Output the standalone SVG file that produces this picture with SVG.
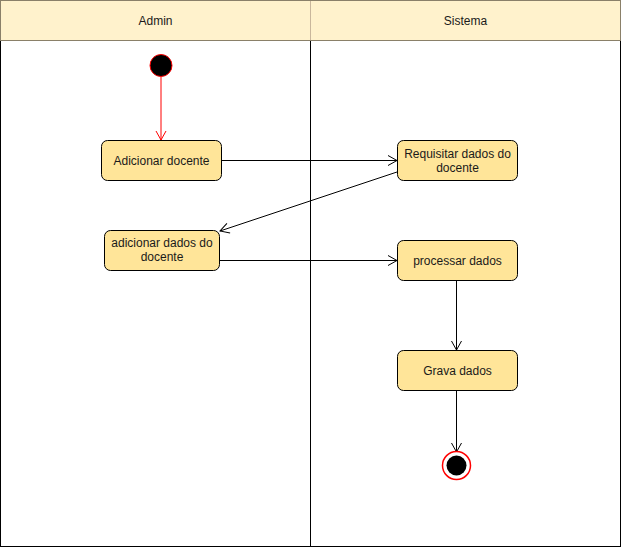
<svg xmlns="http://www.w3.org/2000/svg" width="622" height="547" viewBox="0 0 622 547">
  <defs>
    <marker id="open" markerWidth="12" markerHeight="12" refX="10" refY="6" orient="auto" markerUnits="userSpaceOnUse">
      <path d="M1,1 L10,6 L1,11" fill="none" stroke="#000" stroke-width="1"/>
    </marker>
    <marker id="openRed" markerWidth="12" markerHeight="12" refX="10" refY="6" orient="auto" markerUnits="userSpaceOnUse">
      <path d="M1,1 L10,6 L1,11" fill="none" stroke="#ff0000" stroke-width="1"/>
    </marker>
  </defs>
  <style>
    .lane { fill: #ffffff; stroke: #000000; stroke-width: 1; }
    .head { fill: #fff2cc; stroke: #8a8069; stroke-width: 1; }
    .act { fill: #ffe599; stroke: #000000; stroke-width: 1; }
    .txt { font-family: "Liberation Sans", Arial, sans-serif; font-size: 12px; fill: #1a1a1a; text-anchor: middle; }
    .edge { fill: none; stroke: #000000; stroke-width: 1; }
  </style>

  <!-- swimlanes -->
  <g id="lane-admin">
    <rect class="lane" x="0.5" y="40.5" width="310" height="506"/>
    <rect class="head" x="0.5" y="0.5" width="310" height="40"/>
    <text class="txt" x="155.5" y="24.5">Admin</text>
  </g>
  <g id="lane-sistema">
    <rect class="lane" x="310.5" y="40.5" width="310" height="506"/>
    <rect class="head" x="310.5" y="0.5" width="310" height="40"/>
    <line x1="310.5" y1="1" x2="310.5" y2="40" stroke="#c9b79c" stroke-width="1"/>
    <text class="txt" x="465.5" y="24.5">Sistema</text>
  </g>

  <!-- connectors -->
  <g id="connectors">
    <line x1="161" y1="77" x2="161" y2="140" stroke="#ff0000" stroke-width="1" marker-end="url(#openRed)"/>
    <line class="edge" x1="221" y1="160.5" x2="397" y2="160.5" marker-end="url(#open)"/>
    <line class="edge" x1="397" y1="172" x2="220" y2="231" marker-end="url(#open)"/>
    <line class="edge" x1="219" y1="260.5" x2="397" y2="260.5" marker-end="url(#open)"/>
    <line class="edge" x1="456.5" y1="280" x2="456.5" y2="350" marker-end="url(#open)"/>
    <line class="edge" x1="456.5" y1="390" x2="456.5" y2="452" marker-end="url(#open)"/>
  </g>

  <!-- nodes -->
  <g id="start">
    <circle cx="161" cy="65.5" r="11" fill="#000000" stroke="#ff0000" stroke-width="1"/>
  </g>
  <g id="adicionar-docente">
    <rect class="act" x="101.5" y="140.5" width="120" height="40" rx="6"/>
    <text class="txt" x="161.5" y="164.5">Adicionar docente</text>
  </g>
  <g id="requisitar-dados">
    <rect class="act" x="397.5" y="140.5" width="120" height="40" rx="6"/>
    <text class="txt" x="457.5" y="157.5">Requisitar dados do</text>
    <text class="txt" x="457.5" y="171.5">docente</text>
  </g>
  <g id="adicionar-dados">
    <rect class="act" x="104.5" y="230.5" width="115" height="40" rx="6"/>
    <text class="txt" x="162" y="246.5">adicionar dados do</text>
    <text class="txt" x="162" y="260.5">docente</text>
  </g>
  <g id="processar-dados">
    <rect class="act" x="397.5" y="240.5" width="120" height="40" rx="6"/>
    <text class="txt" x="457.5" y="264.5">processar dados</text>
  </g>
  <g id="grava-dados">
    <rect class="act" x="397.5" y="350.5" width="120" height="40" rx="6"/>
    <text class="txt" x="457.5" y="374.5">Grava dados</text>
  </g>
  <g id="end">
    <circle cx="456.5" cy="465.5" r="14" fill="#ffffff" stroke="#ff0000" stroke-width="1.5"/>
    <circle cx="456.5" cy="465.5" r="10" fill="#000000"/>
  </g>
</svg>
